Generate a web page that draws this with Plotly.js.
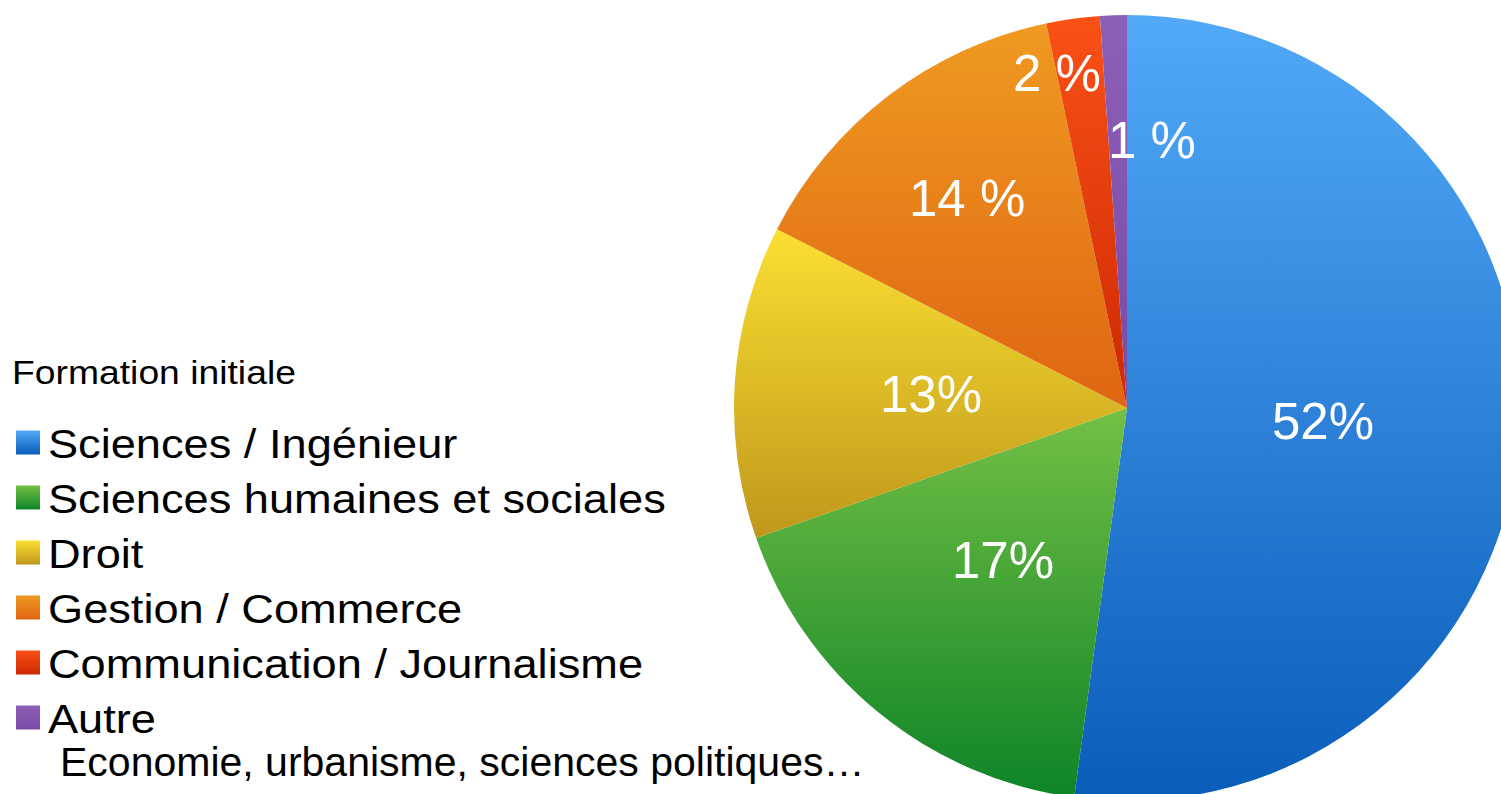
<!DOCTYPE html>
<html>
<head>
<meta charset="utf-8">
<script src="https://cdn.plot.ly/plotly-3.0.1.min.js"></script>
<style>
  html, body { margin: 0; padding: 0; overflow: hidden; background: #ffffff; }
  #chart { width: 1600px; height: 850px; }
</style>
</head>
<body>
<div id="chart"></div>
<script>
// ---- data ----
const categories = [
  'Sciences / Ingénieur',
  'Sciences humaines et sociales',
  'Droit',
  'Gestion / Commerce',
  'Communication / Journalisme',
  'Autre'
];
const values = [52.2, 17.5, 12.9, 14.2, 2.2, 1.1];
const valueLabels = ['52%', '17%', '13%', '14 %', '2 %', '1 %'];
const legendTitle = 'Formation initiale';
const noteText = 'Economie, urbanisme, sciences politiques…';

// ---- style ----
const colorsMid = ['#3286dd', '#4ca53a', '#dfbe27', '#e67d16', '#e84010', '#8459b0'];
const colorsTop = ['#52a9f8', '#74c045', '#fae032', '#ef9a21', '#fa5116', '#8c5fb8'];
const colorsBottom = ['#0a5cb9', '#0e8427', '#bf971b', '#df6512', '#cc2804', '#7a4aa5'];
const labelRadius = [0.5, 0.5, 0.5, 0.67, 0.86, 0.68];
const labelShift = [0, 0, 0, 0, -23, 34];
const legendStretch = 1.13;

const W = 1600, H = 850;
const domX = [734 / W, 1520 / W];
const domY = [1 - 801 / H, 1 - 15 / H];
const font = 'Liberation Sans, Arial, Helvetica, sans-serif';

// label positions from the slice angles
const cx = (domX[0] + domX[1]) / 2 * W;
const cy = (1 - (domY[0] + domY[1]) / 2) * H;
const R = Math.min((domX[1] - domX[0]) * W, (domY[1] - domY[0]) * H) / 2;
const total = values.reduce((a, b) => a + b, 0);
let cum = 0;
const annotations = [];
values.forEach((v, i) => {
  const mid = ((cum + v / 2) / total) * 2 * Math.PI;
  cum += v;
  const px = cx + R * labelRadius[i] * Math.sin(mid) + labelShift[i];
  const py = cy - R * labelRadius[i] * Math.cos(mid);
  annotations.push({
    x: px / W, y: 1 - py / H, xref: 'paper', yref: 'paper',
    text: valueLabels[i], showarrow: false,
    xanchor: 'center', yanchor: 'middle',
    font: { family: font, size: 51, color: '#ffffff' }
  });
});
annotations.push({
  x: 10 / W, y: 1 - 372 / H, xref: 'paper', yref: 'paper',
  text: legendTitle, showarrow: false, xanchor: 'left', yanchor: 'middle',
  font: { family: font, size: 33, color: '#000000' }
});
annotations.push({
  x: 58 / W, y: 1 - 762 / H, xref: 'paper', yref: 'paper',
  text: noteText, showarrow: false, xanchor: 'left', yanchor: 'middle',
  font: { family: font, size: 41, color: '#000000' }
});

const trace = {
  type: 'pie',
  labels: categories,
  values: values,
  sort: false,
  direction: 'clockwise',
  rotation: 0,
  textinfo: 'none',
  hoverinfo: 'label+percent',
  domain: { x: domX, y: domY },
  marker: { colors: colorsMid, line: { width: 0 } }
};

const layout = {
  width: W, height: H,
  margin: { l: 0, r: 0, t: 0, b: 0 },
  paper_bgcolor: '#ffffff',
  showlegend: true,
  legend: {
    x: 8 / W, xanchor: 'left',
    y: 1 - 410 / H, yanchor: 'top',
    font: { family: font, size: 40, color: '#000000' },
    bgcolor: 'rgba(0,0,0,0)',
    tracegroupgap: 0
  },
  annotations: annotations
};

function stretch(el, s) {
  const b = el.getBBox();
  el.setAttribute('transform', 'translate(' + b.x + ',0) scale(' + s + ',1) translate(' + (-b.x) + ',0)');
}

Plotly.newPlot('chart', [trace], layout, { displayModeBar: false, staticPlot: true }).then(function (gd) {
  // vertical gradients like the original slices
  const svg = gd.querySelector('svg.main-svg');
  const ns = 'http://www.w3.org/2000/svg';
  let defs = svg.querySelector('defs');
  if (!defs) { defs = document.createElementNS(ns, 'defs'); svg.insertBefore(defs, svg.firstChild); }
  categories.forEach((c, i) => {
    const g = document.createElementNS(ns, 'linearGradient');
    g.setAttribute('id', 'slicegrad' + i);
    g.setAttribute('x1', '0'); g.setAttribute('y1', '0');
    g.setAttribute('x2', '0'); g.setAttribute('y2', '1');
    const s0 = document.createElementNS(ns, 'stop');
    s0.setAttribute('offset', '0'); s0.setAttribute('stop-color', colorsTop[i]);
    const s1 = document.createElementNS(ns, 'stop');
    s1.setAttribute('offset', '1'); s1.setAttribute('stop-color', colorsBottom[i]);
    g.appendChild(s0); g.appendChild(s1);
    defs.appendChild(g);
  });
  gd.querySelectorAll('.slice path.surface').forEach((p, i) => {
    p.style.fill = 'url(#slicegrad' + i + ')';
  });
  gd.querySelectorAll('.legend [clip-path]').forEach((el) => el.removeAttribute('clip-path'));
  const lg = gd.querySelector('.legend');
  if (lg) lg.removeAttribute('clip-path');
  gd.querySelectorAll('.legend .traces').forEach((t, i) => {
    const p = t.querySelector('.legendpoints path');
    if (p) {
      p.setAttribute('d', 'M12,12H-12V-12H12Z');
      p.style.fill = 'url(#slicegrad' + i + ')';
      p.style.strokeWidth = '0';
    }
    const tx = t.querySelector('text.legendtext');
    if (tx) stretch(tx, legendStretch);
  });
  gd.querySelectorAll('.annotation-text').forEach((tx) => {
    if (tx.textContent === legendTitle) stretch(tx, legendStretch);
  });
});
</script>
</body>
</html>
